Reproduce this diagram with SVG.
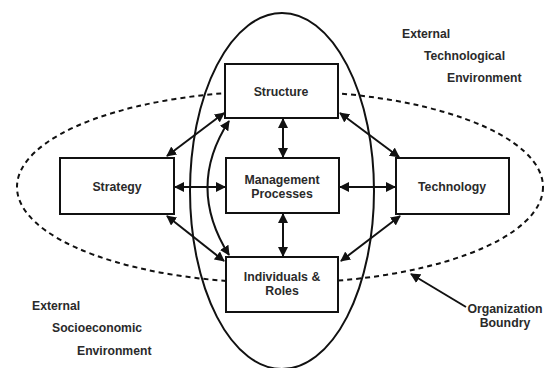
<svg xmlns="http://www.w3.org/2000/svg" width="544" height="368" viewBox="0 0 544 368">
<defs>
<style>
.box{fill:#fff;stroke:#111;stroke-width:2}
.t{font-family:"Liberation Sans",Arial,sans-serif;font-size:12.3px;font-weight:bold;fill:#2a2a2a;text-anchor:middle}
.tl{font-family:"Liberation Sans",Arial,sans-serif;font-size:12.2px;font-weight:bold;fill:#2a2a2a}
.c{fill:none;stroke:#111;stroke-width:2;marker-start:url(#ah);marker-end:url(#ah)}
.c1{fill:none;stroke:#111;stroke-width:2;marker-end:url(#ah)}
</style>
<marker id="ah" viewBox="0 0 10 10" refX="9" refY="5" markerWidth="5" markerHeight="5" orient="auto-start-reverse" markerUnits="strokeWidth">
<path d="M0,0 L10,5 L0,10 z" fill="#111"/>
</marker>
</defs>
<rect width="544" height="368" fill="#fff"/>
<g id="boundaries">
<ellipse cx="280" cy="187" rx="263" ry="96" fill="none" stroke="#111" stroke-width="2" stroke-dasharray="5,4"/>
<ellipse cx="282" cy="191" rx="92" ry="178" fill="none" stroke="#111" stroke-width="2"/>
</g>
<g id="connectors">
<line class="c" x1="167" y1="156" x2="224" y2="113"/>
<line class="c" x1="167" y1="216" x2="224" y2="261"/>
<line class="c" x1="175" y1="187" x2="225" y2="187"/>
<line class="c" x1="340" y1="187" x2="395" y2="187"/>
<line class="c" x1="340" y1="113" x2="399" y2="157"/>
<line class="c" x1="400" y1="216" x2="341" y2="261"/>
<line class="c" x1="283" y1="119" x2="283" y2="157"/>
<line class="c" x1="283" y1="214" x2="283" y2="256"/>
<path class="c" d="M229,121 Q186,187 229,255"/>
<line class="c1" x1="466" y1="307" x2="411" y2="274"/>
</g>
<g id="structure">
<rect class="box" x="225" y="64" width="113" height="54"/>
<text class="t" x="281" y="96">Structure</text>
</g>
<g id="management">
<rect class="box" x="226" y="158" width="113" height="55"/>
<text class="t" x="282" y="184">Management</text>
<text class="t" x="282" y="198">Processes</text>
</g>
<g id="individuals">
<rect class="box" x="226" y="257" width="112" height="55"/>
<text class="t" x="282" y="281">Individuals &amp;</text>
<text class="t" x="282" y="295">Roles</text>
</g>
<g id="strategy">
<rect class="box" x="60" y="158" width="114" height="56"/>
<text class="t" x="117" y="191">Strategy</text>
</g>
<g id="technology">
<rect class="box" x="396" y="158" width="113" height="56"/>
<text class="t" x="452" y="191">Technology</text>
</g>
<g id="labels">
<text class="tl" x="402" y="38">External</text>
<text class="tl" x="424" y="60">Technological</text>
<text class="tl" x="447" y="82">Environment</text>
<text class="tl" x="32" y="310">External</text>
<text class="tl" x="52" y="332">Socioeconomic</text>
<text class="tl" x="77" y="355">Environment</text>
<text class="t" x="505" y="313">Organization</text>
<text class="t" x="505" y="327">Boundry</text>
</g>
</svg>
